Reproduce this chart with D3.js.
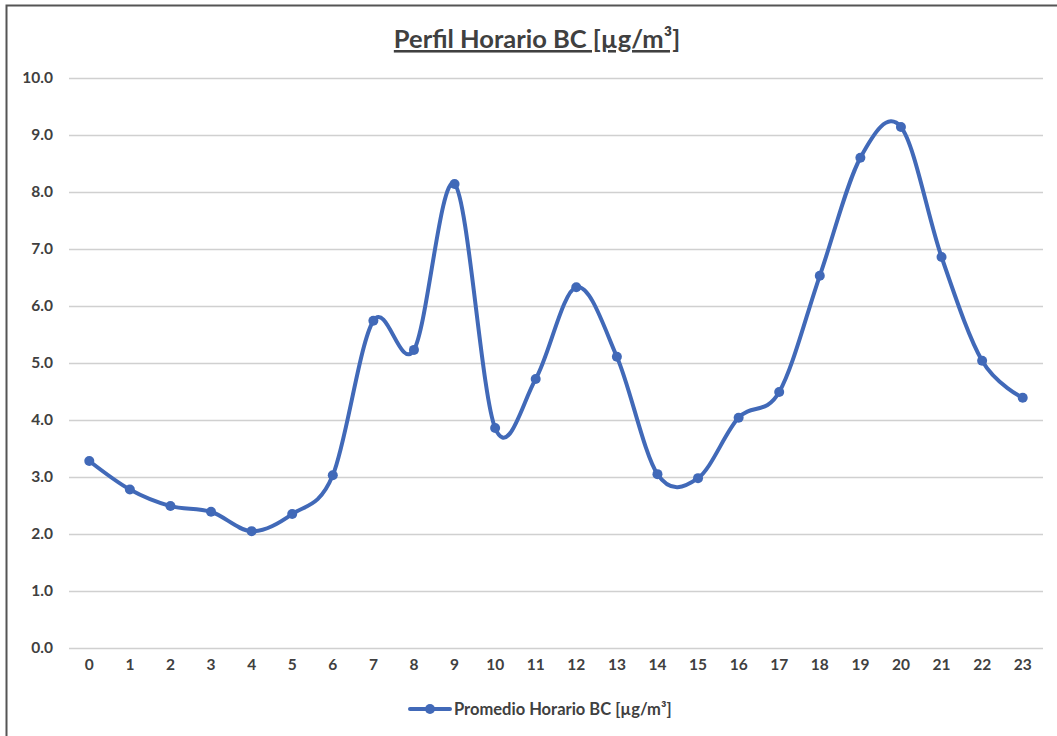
<!DOCTYPE html>
<html>
<head>
<meta charset="utf-8">
<script src="https://cdn.jsdelivr.net/npm/d3@7"></script>
<style>
  html, body { margin: 0; padding: 0; background: #fff; }
  svg { display: block; font-family: Lato, "Open Sans", sans-serif; }
</style>
</head>
<body>
<svg id="chart"></svg>
<script>
// hourly profile
var hours = ["0","1","2","3","4","5","6","7","8","9","10","11","12","13","14","15","16","17","18","19","20","21","22","23"];
var bcValues = [3.28, 2.78, 2.49, 2.39, 2.05, 2.35, 3.03, 5.74, 5.23, 8.14, 3.86, 4.72,
                6.33, 5.11, 3.05, 2.98, 4.04, 4.49, 6.53, 8.60, 9.14, 6.86, 5.04, 4.39];
var yTicks = [0, 1, 2, 3, 4, 5, 6, 7, 8, 9, 10];
var seriesName = "Promedio Horario BC [\u00b5g/m\u00b3]";
var title = "Perfil Horario BC [\u00b5g/m\u00b3]";

var width = 1057, height = 736;
var margin = {top: 78, right: 14, bottom: 88, left: 69};
var lineColor = "#4169b8";

var svg = d3.select("#chart").attr("width", width).attr("height", height);

// outer frame (only top and left edges are visible)
svg.append("rect")
  .attr("x", 6.5).attr("y", 5.5)
  .attr("width", width + 20).attr("height", height + 20)
  .attr("fill", "none").attr("stroke", "#555").attr("stroke-width", 2);

var x = d3.scaleBand()
  .domain(hours)
  .range([margin.left, width - margin.right]);

var y = d3.scaleLinear()
  .domain([0, 10])
  .range([height - margin.bottom, margin.top]);

// gridlines
svg.append("g")
  .selectAll("line")
  .data(yTicks)
  .enter()
  .append("line")
  .attr("x1", margin.left).attr("x2", width - margin.right)
  .attr("y1", function(d) { return Math.round(y(d)) + 0.5; })
  .attr("y2", function(d) { return Math.round(y(d)) + 0.5; })
  .attr("stroke", "#d0d0d0").attr("stroke-width", 1.3);

// y axis labels
var yAxis = d3.axisLeft(y).tickValues(yTicks).tickFormat(d3.format(".1f")).tickSize(0).tickPadding(16);
var gy = svg.append("g").attr("transform", "translate(" + margin.left + ",0)").call(yAxis);
gy.select(".domain").remove();
gy.selectAll("text")
  .attr("font-size", 15.5).attr("font-weight", "bold").attr("fill", "#404040")
  .style("font-family", "Lato, 'Open Sans', sans-serif");

// x axis labels
var xAxis = d3.axisBottom(x).tickSize(0).tickPadding(11);
var gx = svg.append("g").attr("transform", "translate(0," + (height - margin.bottom) + ")").call(xAxis);
gx.select(".domain").remove();
gx.selectAll("text")
  .attr("font-size", 15.5).attr("font-weight", "bold").attr("fill", "#404040")
  .style("font-family", "Lato, 'Open Sans', sans-serif");

var cx = function(d, i) { return x(hours[i]) + x.bandwidth() / 2; };

var line = d3.line()
  .x(cx)
  .y(function(d) { return y(d); })
  .curve(d3.curveCatmullRom.alpha(0));

svg.append("path")
  .datum(bcValues)
  .attr("d", line)
  .attr("fill", "none")
  .attr("stroke", lineColor)
  .attr("stroke-width", 4)
  .attr("stroke-linejoin", "round")
  .attr("stroke-linecap", "round");

svg.append("g")
  .selectAll("circle")
  .data(bcValues)
  .enter()
  .append("circle")
  .attr("cx", cx)
  .attr("cy", function(d) { return y(d); })
  .attr("r", 5)
  .attr("fill", lineColor);

// title
svg.append("text")
  .attr("x", 537).attr("y", 48)
  .attr("text-anchor", "middle")
  .attr("font-size", 25.5).attr("font-weight", "bold")
  .attr("fill", "#404040")
  .style("text-decoration", "underline")
  .text(title);

// legend
var lg = svg.append("g").attr("transform", "translate(410,709)");
lg.append("line").attr("x1", 0).attr("x2", 40).attr("y1", 0).attr("y2", 0)
  .attr("stroke", lineColor).attr("stroke-width", 4).attr("stroke-linecap", "round");
lg.append("circle").attr("cx", 20).attr("cy", 0).attr("r", 5).attr("fill", lineColor);
lg.append("text").attr("x", 44).attr("y", 5.5)
  .attr("font-size", 16.5).attr("font-weight", "bold").attr("fill", "#404040")
  .text(seriesName);
</script>
</body>
</html>
